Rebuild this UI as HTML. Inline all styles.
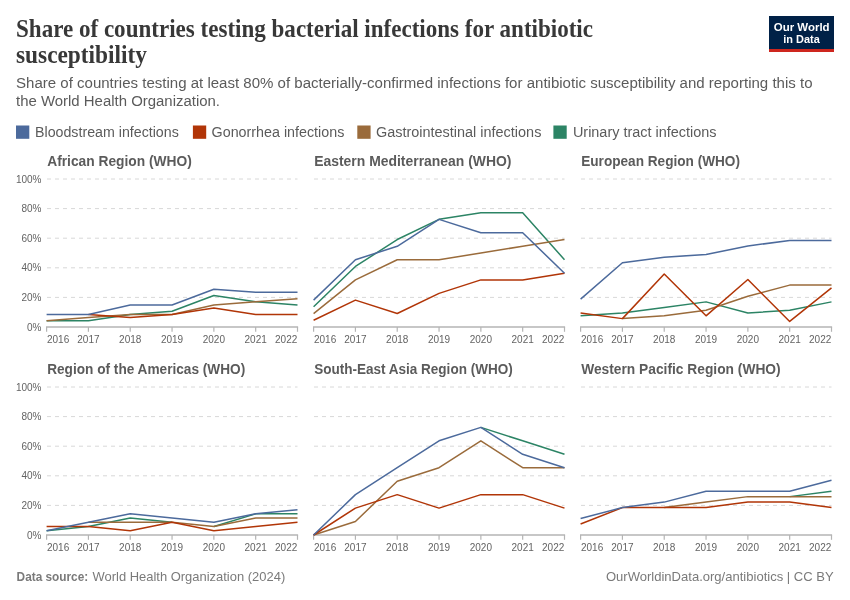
<!DOCTYPE html><html><head><meta charset="utf-8"><style>html,body{margin:0;padding:0;background:#fff;width:850px;height:600px;overflow:hidden}svg{display:block;will-change:transform}text{font-family:"Liberation Sans",sans-serif}</style></head><body>
<svg width="850" height="600" viewBox="0 0 850 600">
<rect x="0" y="0" width="850" height="600" fill="#ffffff"/>
<text x="16" y="36.8" style="font-family:&quot;Liberation Serif&quot;,serif" font-weight="bold" font-size="24.5" fill="#383838" textLength="577" lengthAdjust="spacingAndGlyphs">Share of countries testing bacterial infections for antibiotic</text>
<text x="16" y="62.5" style="font-family:&quot;Liberation Serif&quot;,serif" font-weight="bold" font-size="24.5" fill="#383838" textLength="131" lengthAdjust="spacingAndGlyphs">susceptibility</text>
<text x="16" y="88.2" font-size="14" fill="#5b5b5b" textLength="796.5" lengthAdjust="spacingAndGlyphs">Share of countries testing at least 80% of bacterially-confirmed infections for antibiotic susceptibility and reporting this to</text>
<text x="16" y="105.9" font-size="14" fill="#5b5b5b" textLength="204" lengthAdjust="spacingAndGlyphs">the World Health Organization.</text>
<rect x="769" y="16" width="65" height="36" fill="#002147"/><rect x="769" y="49" width="65" height="3" fill="#ce261e"/>
<text x="801.7" y="30.7" font-size="11.5" font-weight="bold" fill="#fff" text-anchor="middle" textLength="55.8" lengthAdjust="spacingAndGlyphs">Our World</text>
<text x="801.5" y="42.7" font-size="11.5" font-weight="bold" fill="#fff" text-anchor="middle" textLength="36.5" lengthAdjust="spacingAndGlyphs">in Data</text>
<rect x="16" y="125.5" width="13.3" height="13.3" fill="#4c6a9c"/>
<text x="35.0" y="136.8" font-size="14" fill="#5b5b5b" textLength="143.8" lengthAdjust="spacingAndGlyphs">Bloodstream infections</text>
<rect x="192.9" y="125.5" width="13.3" height="13.3" fill="#b13507"/>
<text x="211.6" y="136.8" font-size="14" fill="#5b5b5b" textLength="132.7" lengthAdjust="spacingAndGlyphs">Gonorrhea infections</text>
<rect x="357.3" y="125.5" width="13.3" height="13.3" fill="#9a6b3b"/>
<text x="375.9" y="136.8" font-size="14" fill="#5b5b5b" textLength="165.5" lengthAdjust="spacingAndGlyphs">Gastrointestinal infections</text>
<rect x="553.4" y="125.5" width="13.3" height="13.3" fill="#2c8465"/>
<text x="572.9" y="136.8" font-size="14" fill="#5b5b5b" textLength="143.7" lengthAdjust="spacingAndGlyphs">Urinary tract infections</text>
<text x="47.2" y="166.1" font-size="14" font-weight="bold" fill="#5b5b5b" textLength="144.7" lengthAdjust="spacingAndGlyphs">African Region (WHO)</text>
<line x1="46.6" y1="297.40" x2="297.5" y2="297.40" stroke="#d8d8d8" stroke-width="1" stroke-dasharray="4,4" stroke-dashoffset="-0.4"/>
<line x1="46.6" y1="267.80" x2="297.5" y2="267.80" stroke="#d8d8d8" stroke-width="1" stroke-dasharray="4,4" stroke-dashoffset="-0.4"/>
<line x1="46.6" y1="238.20" x2="297.5" y2="238.20" stroke="#d8d8d8" stroke-width="1" stroke-dasharray="4,4" stroke-dashoffset="-0.4"/>
<line x1="46.6" y1="208.60" x2="297.5" y2="208.60" stroke="#d8d8d8" stroke-width="1" stroke-dasharray="4,4" stroke-dashoffset="-0.4"/>
<line x1="46.6" y1="179.00" x2="297.5" y2="179.00" stroke="#d8d8d8" stroke-width="1" stroke-dasharray="4,4" stroke-dashoffset="-0.4"/>
<text x="41.5" y="330.60" font-size="10" fill="#636363" text-anchor="end">0%</text>
<text x="41.5" y="301.00" font-size="10" fill="#636363" text-anchor="end">20%</text>
<text x="41.5" y="271.40" font-size="10" fill="#636363" text-anchor="end">40%</text>
<text x="41.5" y="241.80" font-size="10" fill="#636363" text-anchor="end">60%</text>
<text x="41.5" y="212.20" font-size="10" fill="#636363" text-anchor="end">80%</text>
<text x="41.5" y="182.60" font-size="10" fill="#636363" text-anchor="end">100%</text>
<line x1="46.0" y1="327.0" x2="298.1" y2="327.0" stroke="#b4b4b4" stroke-width="1.6"/>
<line x1="46.60" y1="327.0" x2="46.60" y2="331.8" stroke="#b4b4b4" stroke-width="1.2"/>
<text x="47.00" y="342.7" font-size="10" fill="#636363" text-anchor="start">2016</text>
<line x1="88.42" y1="327.0" x2="88.42" y2="331.8" stroke="#b4b4b4" stroke-width="1.2"/>
<text x="88.42" y="342.7" font-size="10" fill="#636363" text-anchor="middle">2017</text>
<line x1="130.23" y1="327.0" x2="130.23" y2="331.8" stroke="#b4b4b4" stroke-width="1.2"/>
<text x="130.23" y="342.7" font-size="10" fill="#636363" text-anchor="middle">2018</text>
<line x1="172.05" y1="327.0" x2="172.05" y2="331.8" stroke="#b4b4b4" stroke-width="1.2"/>
<text x="172.05" y="342.7" font-size="10" fill="#636363" text-anchor="middle">2019</text>
<line x1="213.87" y1="327.0" x2="213.87" y2="331.8" stroke="#b4b4b4" stroke-width="1.2"/>
<text x="213.87" y="342.7" font-size="10" fill="#636363" text-anchor="middle">2020</text>
<line x1="255.68" y1="327.0" x2="255.68" y2="331.8" stroke="#b4b4b4" stroke-width="1.2"/>
<text x="255.68" y="342.7" font-size="10" fill="#636363" text-anchor="middle">2021</text>
<line x1="297.50" y1="327.0" x2="297.50" y2="331.8" stroke="#b4b4b4" stroke-width="1.2"/>
<text x="297.30" y="342.7" font-size="10" fill="#636363" text-anchor="end">2022</text>
<path d="M46.60 320.70 L88.42 320.70 L130.23 314.40 L172.05 311.26 L213.87 295.51 L255.68 301.81 L297.50 304.96" fill="none" stroke="#2c8465" stroke-width="1.5" stroke-linejoin="round" stroke-linecap="butt"/>
<path d="M46.60 320.70 L88.42 317.55 L130.23 314.40 L172.05 314.40 L213.87 304.96 L255.68 301.81 L297.50 298.66" fill="none" stroke="#9a6b3b" stroke-width="1.5" stroke-linejoin="round" stroke-linecap="butt"/>
<path d="M88.42 314.40 L130.23 317.55 L172.05 314.40 L213.87 308.11 L255.68 314.40 L297.50 314.40" fill="none" stroke="#b13507" stroke-width="1.5" stroke-linejoin="round" stroke-linecap="butt"/>
<path d="M46.60 314.40 L88.42 314.40 L130.23 304.96 L172.05 304.96 L213.87 289.21 L255.68 292.36 L297.50 292.36" fill="none" stroke="#4c6a9c" stroke-width="1.5" stroke-linejoin="round" stroke-linecap="butt"/>
<text x="314.20000000000005" y="166.1" font-size="14" font-weight="bold" fill="#5b5b5b" textLength="197.3" lengthAdjust="spacingAndGlyphs">Eastern Mediterranean (WHO)</text>
<line x1="313.6" y1="297.40" x2="564.5" y2="297.40" stroke="#d8d8d8" stroke-width="1" stroke-dasharray="4,4" stroke-dashoffset="-0.4"/>
<line x1="313.6" y1="267.80" x2="564.5" y2="267.80" stroke="#d8d8d8" stroke-width="1" stroke-dasharray="4,4" stroke-dashoffset="-0.4"/>
<line x1="313.6" y1="238.20" x2="564.5" y2="238.20" stroke="#d8d8d8" stroke-width="1" stroke-dasharray="4,4" stroke-dashoffset="-0.4"/>
<line x1="313.6" y1="208.60" x2="564.5" y2="208.60" stroke="#d8d8d8" stroke-width="1" stroke-dasharray="4,4" stroke-dashoffset="-0.4"/>
<line x1="313.6" y1="179.00" x2="564.5" y2="179.00" stroke="#d8d8d8" stroke-width="1" stroke-dasharray="4,4" stroke-dashoffset="-0.4"/>
<line x1="313.0" y1="327.0" x2="565.1" y2="327.0" stroke="#b4b4b4" stroke-width="1.6"/>
<line x1="313.60" y1="327.0" x2="313.60" y2="331.8" stroke="#b4b4b4" stroke-width="1.2"/>
<text x="314.00" y="342.7" font-size="10" fill="#636363" text-anchor="start">2016</text>
<line x1="355.42" y1="327.0" x2="355.42" y2="331.8" stroke="#b4b4b4" stroke-width="1.2"/>
<text x="355.42" y="342.7" font-size="10" fill="#636363" text-anchor="middle">2017</text>
<line x1="397.23" y1="327.0" x2="397.23" y2="331.8" stroke="#b4b4b4" stroke-width="1.2"/>
<text x="397.23" y="342.7" font-size="10" fill="#636363" text-anchor="middle">2018</text>
<line x1="439.05" y1="327.0" x2="439.05" y2="331.8" stroke="#b4b4b4" stroke-width="1.2"/>
<text x="439.05" y="342.7" font-size="10" fill="#636363" text-anchor="middle">2019</text>
<line x1="480.87" y1="327.0" x2="480.87" y2="331.8" stroke="#b4b4b4" stroke-width="1.2"/>
<text x="480.87" y="342.7" font-size="10" fill="#636363" text-anchor="middle">2020</text>
<line x1="522.68" y1="327.0" x2="522.68" y2="331.8" stroke="#b4b4b4" stroke-width="1.2"/>
<text x="522.68" y="342.7" font-size="10" fill="#636363" text-anchor="middle">2021</text>
<line x1="564.50" y1="327.0" x2="564.50" y2="331.8" stroke="#b4b4b4" stroke-width="1.2"/>
<text x="564.30" y="342.7" font-size="10" fill="#636363" text-anchor="end">2022</text>
<path d="M313.60 306.82 L355.42 266.45 L397.23 239.55 L439.05 219.36 L480.87 212.64 L522.68 212.64 L564.50 259.73" fill="none" stroke="#2c8465" stroke-width="1.5" stroke-linejoin="round" stroke-linecap="butt"/>
<path d="M313.60 313.55 L355.42 279.91 L397.23 259.73 L439.05 259.73 L480.87 253.00 L522.68 246.27 L564.50 239.55" fill="none" stroke="#9a6b3b" stroke-width="1.5" stroke-linejoin="round" stroke-linecap="butt"/>
<path d="M313.60 320.27 L355.42 300.09 L397.23 313.55 L439.05 293.36 L480.87 279.91 L522.68 279.91 L564.50 273.18" fill="none" stroke="#b13507" stroke-width="1.5" stroke-linejoin="round" stroke-linecap="butt"/>
<path d="M313.60 300.09 L355.42 259.73 L397.23 246.27 L439.05 219.36 L480.87 232.82 L522.68 232.82 L564.50 273.18" fill="none" stroke="#4c6a9c" stroke-width="1.5" stroke-linejoin="round" stroke-linecap="butt"/>
<text x="581.2" y="166.1" font-size="14" font-weight="bold" fill="#5b5b5b" textLength="158.8" lengthAdjust="spacingAndGlyphs">European Region (WHO)</text>
<line x1="580.6" y1="297.40" x2="831.5" y2="297.40" stroke="#d8d8d8" stroke-width="1" stroke-dasharray="4,4" stroke-dashoffset="-0.4"/>
<line x1="580.6" y1="267.80" x2="831.5" y2="267.80" stroke="#d8d8d8" stroke-width="1" stroke-dasharray="4,4" stroke-dashoffset="-0.4"/>
<line x1="580.6" y1="238.20" x2="831.5" y2="238.20" stroke="#d8d8d8" stroke-width="1" stroke-dasharray="4,4" stroke-dashoffset="-0.4"/>
<line x1="580.6" y1="208.60" x2="831.5" y2="208.60" stroke="#d8d8d8" stroke-width="1" stroke-dasharray="4,4" stroke-dashoffset="-0.4"/>
<line x1="580.6" y1="179.00" x2="831.5" y2="179.00" stroke="#d8d8d8" stroke-width="1" stroke-dasharray="4,4" stroke-dashoffset="-0.4"/>
<line x1="580.0" y1="327.0" x2="832.1" y2="327.0" stroke="#b4b4b4" stroke-width="1.6"/>
<line x1="580.60" y1="327.0" x2="580.60" y2="331.8" stroke="#b4b4b4" stroke-width="1.2"/>
<text x="581.00" y="342.7" font-size="10" fill="#636363" text-anchor="start">2016</text>
<line x1="622.42" y1="327.0" x2="622.42" y2="331.8" stroke="#b4b4b4" stroke-width="1.2"/>
<text x="622.42" y="342.7" font-size="10" fill="#636363" text-anchor="middle">2017</text>
<line x1="664.23" y1="327.0" x2="664.23" y2="331.8" stroke="#b4b4b4" stroke-width="1.2"/>
<text x="664.23" y="342.7" font-size="10" fill="#636363" text-anchor="middle">2018</text>
<line x1="706.05" y1="327.0" x2="706.05" y2="331.8" stroke="#b4b4b4" stroke-width="1.2"/>
<text x="706.05" y="342.7" font-size="10" fill="#636363" text-anchor="middle">2019</text>
<line x1="747.87" y1="327.0" x2="747.87" y2="331.8" stroke="#b4b4b4" stroke-width="1.2"/>
<text x="747.87" y="342.7" font-size="10" fill="#636363" text-anchor="middle">2020</text>
<line x1="789.68" y1="327.0" x2="789.68" y2="331.8" stroke="#b4b4b4" stroke-width="1.2"/>
<text x="789.68" y="342.7" font-size="10" fill="#636363" text-anchor="middle">2021</text>
<line x1="831.50" y1="327.0" x2="831.50" y2="331.8" stroke="#b4b4b4" stroke-width="1.2"/>
<text x="831.30" y="342.7" font-size="10" fill="#636363" text-anchor="end">2022</text>
<path d="M580.60 315.83 L622.42 313.04 L664.23 307.45 L706.05 301.87 L747.87 313.04 L789.68 310.25 L831.50 301.87" fill="none" stroke="#2c8465" stroke-width="1.5" stroke-linejoin="round" stroke-linecap="butt"/>
<path d="M622.42 318.62 L664.23 315.83 L706.05 310.25 L747.87 296.28 L789.68 285.11 L831.50 285.11" fill="none" stroke="#9a6b3b" stroke-width="1.5" stroke-linejoin="round" stroke-linecap="butt"/>
<path d="M580.60 313.04 L622.42 318.62 L664.23 273.94 L706.05 315.83 L747.87 279.53 L789.68 321.42 L831.50 287.91" fill="none" stroke="#b13507" stroke-width="1.5" stroke-linejoin="round" stroke-linecap="butt"/>
<path d="M580.60 299.08 L622.42 262.77 L664.23 257.19 L706.05 254.40 L747.87 246.02 L789.68 240.43 L831.50 240.43" fill="none" stroke="#4c6a9c" stroke-width="1.5" stroke-linejoin="round" stroke-linecap="butt"/>
<text x="47.2" y="374.1" font-size="14" font-weight="bold" fill="#5b5b5b" textLength="198.0" lengthAdjust="spacingAndGlyphs">Region of the Americas (WHO)</text>
<line x1="46.6" y1="505.40" x2="297.5" y2="505.40" stroke="#d8d8d8" stroke-width="1" stroke-dasharray="4,4" stroke-dashoffset="-0.4"/>
<line x1="46.6" y1="475.80" x2="297.5" y2="475.80" stroke="#d8d8d8" stroke-width="1" stroke-dasharray="4,4" stroke-dashoffset="-0.4"/>
<line x1="46.6" y1="446.20" x2="297.5" y2="446.20" stroke="#d8d8d8" stroke-width="1" stroke-dasharray="4,4" stroke-dashoffset="-0.4"/>
<line x1="46.6" y1="416.60" x2="297.5" y2="416.60" stroke="#d8d8d8" stroke-width="1" stroke-dasharray="4,4" stroke-dashoffset="-0.4"/>
<line x1="46.6" y1="387.00" x2="297.5" y2="387.00" stroke="#d8d8d8" stroke-width="1" stroke-dasharray="4,4" stroke-dashoffset="-0.4"/>
<text x="41.5" y="538.60" font-size="10" fill="#636363" text-anchor="end">0%</text>
<text x="41.5" y="509.00" font-size="10" fill="#636363" text-anchor="end">20%</text>
<text x="41.5" y="479.40" font-size="10" fill="#636363" text-anchor="end">40%</text>
<text x="41.5" y="449.80" font-size="10" fill="#636363" text-anchor="end">60%</text>
<text x="41.5" y="420.20" font-size="10" fill="#636363" text-anchor="end">80%</text>
<text x="41.5" y="390.60" font-size="10" fill="#636363" text-anchor="end">100%</text>
<line x1="46.0" y1="535.0" x2="298.1" y2="535.0" stroke="#b4b4b4" stroke-width="1.6"/>
<line x1="46.60" y1="535.0" x2="46.60" y2="539.8" stroke="#b4b4b4" stroke-width="1.2"/>
<text x="47.00" y="550.7" font-size="10" fill="#636363" text-anchor="start">2016</text>
<line x1="88.42" y1="535.0" x2="88.42" y2="539.8" stroke="#b4b4b4" stroke-width="1.2"/>
<text x="88.42" y="550.7" font-size="10" fill="#636363" text-anchor="middle">2017</text>
<line x1="130.23" y1="535.0" x2="130.23" y2="539.8" stroke="#b4b4b4" stroke-width="1.2"/>
<text x="130.23" y="550.7" font-size="10" fill="#636363" text-anchor="middle">2018</text>
<line x1="172.05" y1="535.0" x2="172.05" y2="539.8" stroke="#b4b4b4" stroke-width="1.2"/>
<text x="172.05" y="550.7" font-size="10" fill="#636363" text-anchor="middle">2019</text>
<line x1="213.87" y1="535.0" x2="213.87" y2="539.8" stroke="#b4b4b4" stroke-width="1.2"/>
<text x="213.87" y="550.7" font-size="10" fill="#636363" text-anchor="middle">2020</text>
<line x1="255.68" y1="535.0" x2="255.68" y2="539.8" stroke="#b4b4b4" stroke-width="1.2"/>
<text x="255.68" y="550.7" font-size="10" fill="#636363" text-anchor="middle">2021</text>
<line x1="297.50" y1="535.0" x2="297.50" y2="539.8" stroke="#b4b4b4" stroke-width="1.2"/>
<text x="297.30" y="550.7" font-size="10" fill="#636363" text-anchor="end">2022</text>
<path d="M46.60 530.77 L88.42 526.54 L130.23 518.09 L172.05 522.31 M213.87 526.54 L255.68 513.86 L297.50 513.86" fill="none" stroke="#2c8465" stroke-width="1.5" stroke-linejoin="round" stroke-linecap="butt"/>
<path d="M88.42 522.31 L130.23 522.31 L172.05 522.31 L213.87 526.54 L255.68 518.09 L297.50 518.09" fill="none" stroke="#9a6b3b" stroke-width="1.5" stroke-linejoin="round" stroke-linecap="butt"/>
<path d="M46.60 526.54 L88.42 526.54 L130.23 530.77 L172.05 522.31 L213.87 530.77 L255.68 526.54 L297.50 522.31" fill="none" stroke="#b13507" stroke-width="1.5" stroke-linejoin="round" stroke-linecap="butt"/>
<path d="M46.60 530.77 L88.42 522.31 L130.23 513.86 L172.05 518.09 L213.87 522.31 L255.68 513.86 L297.50 509.63" fill="none" stroke="#4c6a9c" stroke-width="1.5" stroke-linejoin="round" stroke-linecap="butt"/>
<text x="314.20000000000005" y="374.1" font-size="14" font-weight="bold" fill="#5b5b5b" textLength="198.5" lengthAdjust="spacingAndGlyphs">South-East Asia Region (WHO)</text>
<line x1="313.6" y1="505.40" x2="564.5" y2="505.40" stroke="#d8d8d8" stroke-width="1" stroke-dasharray="4,4" stroke-dashoffset="-0.4"/>
<line x1="313.6" y1="475.80" x2="564.5" y2="475.80" stroke="#d8d8d8" stroke-width="1" stroke-dasharray="4,4" stroke-dashoffset="-0.4"/>
<line x1="313.6" y1="446.20" x2="564.5" y2="446.20" stroke="#d8d8d8" stroke-width="1" stroke-dasharray="4,4" stroke-dashoffset="-0.4"/>
<line x1="313.6" y1="416.60" x2="564.5" y2="416.60" stroke="#d8d8d8" stroke-width="1" stroke-dasharray="4,4" stroke-dashoffset="-0.4"/>
<line x1="313.6" y1="387.00" x2="564.5" y2="387.00" stroke="#d8d8d8" stroke-width="1" stroke-dasharray="4,4" stroke-dashoffset="-0.4"/>
<line x1="313.0" y1="535.0" x2="565.1" y2="535.0" stroke="#b4b4b4" stroke-width="1.6"/>
<line x1="313.60" y1="535.0" x2="313.60" y2="539.8" stroke="#b4b4b4" stroke-width="1.2"/>
<text x="314.00" y="550.7" font-size="10" fill="#636363" text-anchor="start">2016</text>
<line x1="355.42" y1="535.0" x2="355.42" y2="539.8" stroke="#b4b4b4" stroke-width="1.2"/>
<text x="355.42" y="550.7" font-size="10" fill="#636363" text-anchor="middle">2017</text>
<line x1="397.23" y1="535.0" x2="397.23" y2="539.8" stroke="#b4b4b4" stroke-width="1.2"/>
<text x="397.23" y="550.7" font-size="10" fill="#636363" text-anchor="middle">2018</text>
<line x1="439.05" y1="535.0" x2="439.05" y2="539.8" stroke="#b4b4b4" stroke-width="1.2"/>
<text x="439.05" y="550.7" font-size="10" fill="#636363" text-anchor="middle">2019</text>
<line x1="480.87" y1="535.0" x2="480.87" y2="539.8" stroke="#b4b4b4" stroke-width="1.2"/>
<text x="480.87" y="550.7" font-size="10" fill="#636363" text-anchor="middle">2020</text>
<line x1="522.68" y1="535.0" x2="522.68" y2="539.8" stroke="#b4b4b4" stroke-width="1.2"/>
<text x="522.68" y="550.7" font-size="10" fill="#636363" text-anchor="middle">2021</text>
<line x1="564.50" y1="535.0" x2="564.50" y2="539.8" stroke="#b4b4b4" stroke-width="1.2"/>
<text x="564.30" y="550.7" font-size="10" fill="#636363" text-anchor="end">2022</text>
<path d="M480.87 427.36 L522.68 440.82 L564.50 454.27" fill="none" stroke="#2c8465" stroke-width="1.5" stroke-linejoin="round" stroke-linecap="butt"/>
<path d="M313.60 535.00 L355.42 521.55 L397.23 481.18 L439.05 467.73 L480.87 440.82 L522.68 467.73 L564.50 467.73" fill="none" stroke="#9a6b3b" stroke-width="1.5" stroke-linejoin="round" stroke-linecap="butt"/>
<path d="M313.60 535.00 L355.42 508.09 L397.23 494.64 L439.05 508.09 L480.87 494.64 L522.68 494.64 L564.50 508.09" fill="none" stroke="#b13507" stroke-width="1.5" stroke-linejoin="round" stroke-linecap="butt"/>
<path d="M313.60 535.00 L355.42 494.64 L397.23 467.73 L439.05 440.82 L480.87 427.36 L522.68 454.27 L564.50 467.73" fill="none" stroke="#4c6a9c" stroke-width="1.5" stroke-linejoin="round" stroke-linecap="butt"/>
<text x="581.2" y="374.1" font-size="14" font-weight="bold" fill="#5b5b5b" textLength="199.5" lengthAdjust="spacingAndGlyphs">Western Pacific Region (WHO)</text>
<line x1="580.6" y1="505.40" x2="831.5" y2="505.40" stroke="#d8d8d8" stroke-width="1" stroke-dasharray="4,4" stroke-dashoffset="-0.4"/>
<line x1="580.6" y1="475.80" x2="831.5" y2="475.80" stroke="#d8d8d8" stroke-width="1" stroke-dasharray="4,4" stroke-dashoffset="-0.4"/>
<line x1="580.6" y1="446.20" x2="831.5" y2="446.20" stroke="#d8d8d8" stroke-width="1" stroke-dasharray="4,4" stroke-dashoffset="-0.4"/>
<line x1="580.6" y1="416.60" x2="831.5" y2="416.60" stroke="#d8d8d8" stroke-width="1" stroke-dasharray="4,4" stroke-dashoffset="-0.4"/>
<line x1="580.6" y1="387.00" x2="831.5" y2="387.00" stroke="#d8d8d8" stroke-width="1" stroke-dasharray="4,4" stroke-dashoffset="-0.4"/>
<line x1="580.0" y1="535.0" x2="832.1" y2="535.0" stroke="#b4b4b4" stroke-width="1.6"/>
<line x1="580.60" y1="535.0" x2="580.60" y2="539.8" stroke="#b4b4b4" stroke-width="1.2"/>
<text x="581.00" y="550.7" font-size="10" fill="#636363" text-anchor="start">2016</text>
<line x1="622.42" y1="535.0" x2="622.42" y2="539.8" stroke="#b4b4b4" stroke-width="1.2"/>
<text x="622.42" y="550.7" font-size="10" fill="#636363" text-anchor="middle">2017</text>
<line x1="664.23" y1="535.0" x2="664.23" y2="539.8" stroke="#b4b4b4" stroke-width="1.2"/>
<text x="664.23" y="550.7" font-size="10" fill="#636363" text-anchor="middle">2018</text>
<line x1="706.05" y1="535.0" x2="706.05" y2="539.8" stroke="#b4b4b4" stroke-width="1.2"/>
<text x="706.05" y="550.7" font-size="10" fill="#636363" text-anchor="middle">2019</text>
<line x1="747.87" y1="535.0" x2="747.87" y2="539.8" stroke="#b4b4b4" stroke-width="1.2"/>
<text x="747.87" y="550.7" font-size="10" fill="#636363" text-anchor="middle">2020</text>
<line x1="789.68" y1="535.0" x2="789.68" y2="539.8" stroke="#b4b4b4" stroke-width="1.2"/>
<text x="789.68" y="550.7" font-size="10" fill="#636363" text-anchor="middle">2021</text>
<line x1="831.50" y1="535.0" x2="831.50" y2="539.8" stroke="#b4b4b4" stroke-width="1.2"/>
<text x="831.30" y="550.7" font-size="10" fill="#636363" text-anchor="end">2022</text>
<path d="M789.68 496.63 L831.50 491.15" fill="none" stroke="#2c8465" stroke-width="1.5" stroke-linejoin="round" stroke-linecap="butt"/>
<path d="M664.23 507.59 L706.05 502.11 L747.87 496.63 L789.68 496.63 L831.50 496.63" fill="none" stroke="#9a6b3b" stroke-width="1.5" stroke-linejoin="round" stroke-linecap="butt"/>
<path d="M580.60 524.04 L622.42 507.59 L664.23 507.59 L706.05 507.59 L747.87 502.11 L789.68 502.11 L831.50 507.59" fill="none" stroke="#b13507" stroke-width="1.5" stroke-linejoin="round" stroke-linecap="butt"/>
<path d="M580.60 518.56 L622.42 507.59 L664.23 502.11 L706.05 491.15 L747.87 491.15 L789.68 491.15 L831.50 480.19" fill="none" stroke="#4c6a9c" stroke-width="1.5" stroke-linejoin="round" stroke-linecap="butt"/>
<text x="16.6" y="581.2" font-size="13" font-weight="bold" fill="#7a7a7a" textLength="71.6" lengthAdjust="spacingAndGlyphs">Data source:</text>
<text x="92.5" y="581.2" font-size="13" fill="#7a7a7a" textLength="192.7" lengthAdjust="spacingAndGlyphs">World Health Organization (2024)</text>
<text x="605.9" y="581.3" font-size="13" fill="#7a7a7a" textLength="227.8" lengthAdjust="spacingAndGlyphs">OurWorldinData.org/antibiotics | CC BY</text>
</svg></body></html>
